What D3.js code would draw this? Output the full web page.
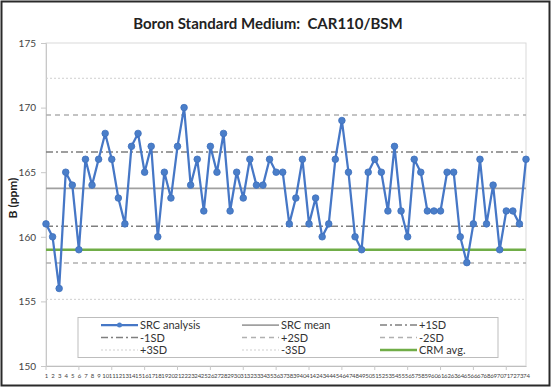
<!DOCTYPE html>
<html>
<head>
<meta charset="utf-8">
<script src="https://cdn.jsdelivr.net/npm/d3@7"></script>
<style>
  body { margin: 0; background: #fff; }
  svg { display: block; font-family: Lato, "Liberation Sans", sans-serif; }
</style>
</head>
<body>
<svg id="chart" width="552" height="388"></svg>
<script>
// run numbers 1..74 and the boron values
const runs = d3.range(1, 75);
const boron = [
    161, 160, 156, 165, 164, 159, 166, 164, 166, 168,
    166, 163, 161, 167, 168, 165, 167, 160, 165, 163,
    167, 170, 164, 166, 162, 167, 165, 168, 162, 165,
    163, 166, 164, 164, 166, 165, 165, 161, 163, 166,
    161, 163, 160, 161, 166, 169, 165, 160, 159, 165,
    166, 165, 162, 167, 162, 160, 166, 165, 162, 162,
    162, 165, 165, 160, 158, 161, 166, 161, 164, 159,
    162, 162, 161, 166,
];

// reference lines
const refNames = ["SRC mean", "+1SD", "-1SD", "+2SD", "-2SD", "+3SD", "-3SD", "CRM avg."];
const refValues = [163.74, 166.56, 160.82, 169.42, 157.98, 172.27, 155.16, 159.0];

const yTicks = [150, 155, 160, 165, 170, 175];

const legendOrder = [
    "SRC analysis", "SRC mean", "+1SD",
    "-1SD", "+2SD", "-2SD",
    "+3SD", "-3SD", "CRM avg.",
];

const styles = {
    "SRC analysis": { stroke: "#4677c6", width: 2.25, dash: null },
    "SRC mean": { stroke: "#a0a0a0", width: 1.75, dash: null },
    "+1SD": { stroke: "#7f7f7f", width: 1.5, dash: "7,3,2,3" },
    "-1SD": { stroke: "#7f7f7f", width: 1.5, dash: "7,3,2,3" },
    "+2SD": { stroke: "#b0b0b0", width: 1.5, dash: "5,4" },
    "-2SD": { stroke: "#b0b0b0", width: 1.5, dash: "5,4" },
    "+3SD": { stroke: "#cfcfcf", width: 1, dash: "2,2" },
    "-3SD": { stroke: "#cfcfcf", width: 1, dash: "2,2" },
    "CRM avg.": { stroke: "#70ad47", width: 2.5, dash: null },
};

const svg = d3.select("#chart");
const plot = { left: 46, right: 526, top: 43, bottom: 366 };

// outer frame
svg.append("rect")
    .attr("x", 1.5).attr("y", 1.5)
    .attr("width", 548).attr("height", 384)
    .attr("fill", "#fff")
    .attr("stroke", "#2a2a2a")
    .attr("stroke-width", 2);

svg.append("text")
    .attr("x", 268).attr("y", 29)
    .attr("text-anchor", "middle")
    .attr("font-size", 15)
    .attr("font-weight", "bold")
    .attr("fill", "#222")
    .attr("xml:space", "preserve")
    .text("Boron Standard Medium:  CAR110/BSM");

const x = d3.scalePoint().domain(runs).range([plot.left, plot.right]).padding(0);
const y = d3.scaleLinear().domain([150, 175]).range([plot.bottom, plot.top]);

// plot border
svg.append("rect")
    .attr("x", plot.left).attr("y", plot.top)
    .attr("width", plot.right - plot.left)
    .attr("height", plot.bottom - plot.top)
    .attr("fill", "none")
    .attr("stroke", "#d9d9d9");

// y axis
const yAxis = svg.append("g")
    .attr("transform", `translate(${plot.left},0)`)
    .call(d3.axisLeft(y).tickValues(yTicks).tickSize(5).tickPadding(5));
yAxis.select(".domain").attr("stroke", "#c8c8c8");
yAxis.selectAll(".tick line").attr("stroke", "#c8c8c8");
yAxis.selectAll(".tick text")
    .attr("font-family", "Lato, sans-serif")
    .attr("font-size", 10)
    .attr("fill", "#444");

svg.append("text")
    .attr("transform", "translate(17,198) rotate(-90)")
    .attr("text-anchor", "middle")
    .attr("font-size", 12)
    .attr("font-weight", "bold")
    .attr("fill", "#222")
    .text("B (ppm)");

// x axis
const xAxis = svg.append("g")
    .attr("transform", `translate(0,${plot.bottom})`)
    .call(d3.axisBottom(x).tickSize(0).tickPadding(8));
xAxis.select(".domain").attr("stroke", "#bfbfbf");
xAxis.selectAll(".tick text")
    .attr("font-family", "Lato, sans-serif")
    .attr("font-size", 6)
    .attr("fill", "#444");
xAxis.selectAll(".minor")
    .data(runs.filter((r) => (r - 1) % 5 === 0))
    .join("line")
    .attr("x1", (r) => x(r)).attr("x2", (r) => x(r))
    .attr("y1", 0).attr("y2", 4)
    .attr("stroke", "#c8c8c8");

// reference lines
refNames.forEach((name, i) => {
    const s = styles[name];
    svg.append("line")
        .attr("x1", plot.left).attr("x2", plot.right)
        .attr("y1", y(refValues[i])).attr("y2", y(refValues[i]))
        .attr("stroke", s.stroke)
        .attr("stroke-width", s.width)
        .attr("stroke-dasharray", s.dash);
});

// SRC analysis series
const line = d3.line().x((d, i) => x(runs[i])).y((d) => y(d));
svg.append("path")
    .datum(boron)
    .attr("d", line)
    .attr("fill", "none")
    .attr("stroke", styles["SRC analysis"].stroke)
    .attr("stroke-width", 2.25)
    .attr("stroke-linejoin", "round");

svg.append("g")
    .selectAll("circle")
    .data(boron)
    .join("circle")
    .attr("cx", (d, i) => x(runs[i]))
    .attr("cy", (d) => y(d))
    .attr("r", 3.3)
    .attr("fill", "#4a7ec9")
    .attr("stroke", "#3f70bd")
    .attr("stroke-width", 0.8);

// legend
const legend = svg.append("g");
legend.append("rect")
    .attr("x", 78).attr("y", 317.5)
    .attr("width", 420).attr("height", 40)
    .attr("fill", "#fff")
    .attr("stroke", "#bdbdbd");

const colX = [101, 242, 380];
const rowY = [325, 337.5, 350];
legendOrder.forEach((name, i) => {
    const cx = colX[i % 3];
    const cy = rowY[Math.floor(i / 3)];
    const s = styles[name];
    legend.append("line")
        .attr("x1", cx).attr("x2", cx + 37)
        .attr("y1", cy).attr("y2", cy)
        .attr("stroke", s.stroke)
        .attr("stroke-width", s.width)
        .attr("stroke-dasharray", s.dash);
    if (name === "SRC analysis") {
        legend.append("circle")
            .attr("cx", cx + 18.5).attr("cy", cy)
            .attr("r", 2.5)
            .attr("fill", "#4a7ec9");
    }
    legend.append("text")
        .attr("x", cx + 39).attr("y", cy + 4)
        .attr("font-size", 11)
        .attr("fill", "#333")
        .text(name);
});
</script>
</body>
</html>
